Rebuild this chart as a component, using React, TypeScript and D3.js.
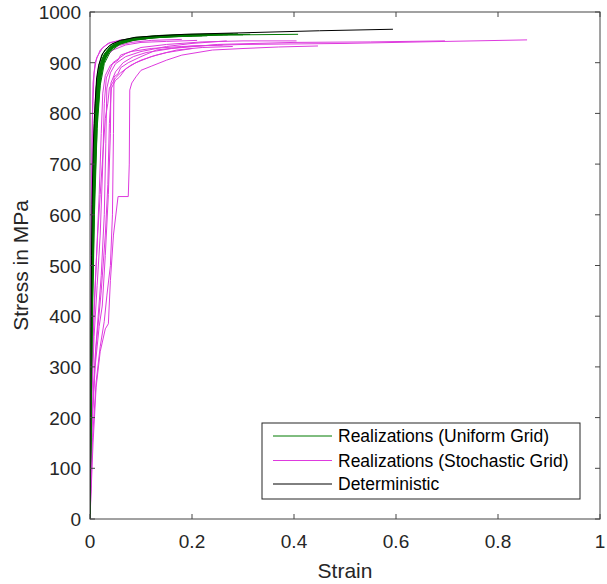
import React from "react";
import * as d3 from "d3";

type Pt = [number, number];

const xTicks = [0, 0.2, 0.4, 0.6, 0.8, 1];
const yTicks = [0, 100, 200, 300, 400, 500, 600, 700, 800, 900, 1000];

const legendLabels = [
  "Realizations (Uniform Grid)",
  "Realizations (Stochastic Grid)",
  "Deterministic",
];
const seriesColors = ["#007a00", "#de3ade", "#000000"];

const deterministic: Pt[] = [
  [0, 0], [0.001, 200], [0.002, 380], [0.003, 520], [0.004, 620], [0.006, 720],
  [0.008, 780], [0.01, 820], [0.013, 870], [0.017, 895], [0.023, 915], [0.03, 926],
  [0.043, 937], [0.06, 944], [0.088, 950], [0.13, 953], [0.186, 956], [0.3, 959],
  [0.45, 963], [0.594, 966],
];

const uniform1: Pt[] = [[0, 0], [0.003, 380], [0.006, 600], [0.01, 760], [0.014, 840], [0.02, 890], [0.03, 918], [0.045, 934], [0.07, 944], [0.1, 949], [0.15, 953], [0.22, 955], [0.314, 956]];
const uniform2: Pt[] = [[0, 0], [0.003, 350], [0.007, 600], [0.012, 780], [0.017, 860], [0.024, 900], [0.035, 922], [0.05, 935], [0.08, 945], [0.12, 950], [0.2, 954], [0.3, 955], [0.408, 956]];
const uniform3: Pt[] = [[0, 0], [0.002, 300], [0.005, 560], [0.009, 740], [0.013, 830], [0.018, 880], [0.026, 910], [0.04, 930], [0.06, 941], [0.09, 948], [0.14, 952], [0.2, 954], [0.26, 955]];
const uniform4: Pt[] = [[0, 0], [0.004, 420], [0.008, 650], [0.013, 800], [0.019, 870], [0.027, 905], [0.04, 926], [0.06, 939], [0.09, 946], [0.13, 951], [0.18, 953], [0.24, 954]];
const uniform5: Pt[] = [[0, 0], [0.002, 320], [0.004, 520], [0.007, 690], [0.011, 800], [0.016, 870], [0.023, 905], [0.035, 926], [0.055, 940], [0.085, 948], [0.12, 952], [0.17, 954], [0.21, 955]];
const uniform6: Pt[] = [[0, 0], [0.002, 340], [0.005, 600], [0.008, 760], [0.012, 850], [0.017, 893], [0.025, 918], [0.038, 934], [0.06, 944], [0.09, 950], [0.14, 954], [0.2, 956], [0.28, 957]];
const uniform7: Pt[] = [[0, 0], [0.003, 400], [0.006, 640], [0.01, 790], [0.015, 860], [0.021, 898], [0.03, 920], [0.045, 935], [0.07, 945], [0.11, 951], [0.16, 954], [0.23, 956], [0.29, 957]];
const uniform8: Pt[] = [[0, 0], [0.004, 380], [0.009, 640], [0.015, 800], [0.021, 870], [0.028, 905], [0.038, 924], [0.055, 937], [0.08, 945], [0.12, 950], [0.18, 953], [0.25, 955]];
const uniform9: Pt[] = [[0, 0], [0.002, 280], [0.005, 520], [0.008, 700], [0.012, 810], [0.016, 865], [0.022, 900], [0.032, 922], [0.048, 936], [0.075, 945], [0.11, 950], [0.16, 953], [0.2, 954]];
const uniform10: Pt[] = [[0, 0], [0.003, 360], [0.007, 620], [0.011, 770], [0.016, 850], [0.022, 892], [0.032, 918], [0.047, 933], [0.07, 942], [0.1, 948], [0.15, 952], [0.23, 955], [0.27, 955]];
const uniform11: Pt[] = [[0, 0], [0.003, 330], [0.006, 560], [0.01, 730], [0.015, 830], [0.021, 880], [0.029, 908], [0.042, 928], [0.065, 940], [0.095, 946], [0.14, 950], [0.19, 952], [0.23, 953]];
const uniform12: Pt[] = [[0, 0], [0.002, 260], [0.004, 470], [0.007, 660], [0.01, 780], [0.014, 850], [0.019, 890], [0.027, 915], [0.04, 932], [0.062, 942], [0.095, 949], [0.15, 953], [0.19, 954]];
const uniform13: Pt[] = [[0, 0], [0.004, 400], [0.008, 620], [0.012, 760], [0.018, 850], [0.025, 895], [0.036, 920], [0.052, 935], [0.078, 944], [0.115, 949], [0.17, 952], [0.22, 953]];
const uniform14: Pt[] = [[0, 0], [0.003, 370], [0.006, 590], [0.009, 730], [0.013, 820], [0.018, 875], [0.025, 905], [0.037, 927], [0.057, 939], [0.087, 947], [0.13, 951], [0.18, 953], [0.25, 955], [0.3, 955]];
const uniform15: Pt[] = [[0, 0], [0.002, 310], [0.005, 580], [0.008, 740], [0.011, 820], [0.015, 865], [0.02, 895], [0.028, 916], [0.042, 933], [0.065, 943], [0.1, 949], [0.15, 953], [0.17, 953]];
const uniform16: Pt[] = [[0, 0], [0.004, 360], [0.009, 610], [0.014, 770], [0.02, 855], [0.028, 898], [0.04, 922], [0.058, 936], [0.085, 944], [0.125, 949], [0.18, 952], [0.2, 953]];

const stochastic1: Pt[] = [[0, 0], [0.006, 150], [0.012, 260], [0.02, 330], [0.03, 375], [0.036, 385], [0.04, 470], [0.046, 560], [0.055, 636], [0.075, 636], [0.077, 700], [0.078, 846], [0.082, 860], [0.09, 872], [0.1, 885], [0.12, 893], [0.15, 905], [0.18, 915], [0.24, 925], [0.3, 928], [0.37, 931], [0.447, 933]];
const stochastic2: Pt[] = [[0, 0], [0.005, 160], [0.012, 270], [0.02, 340], [0.028, 390], [0.033, 440], [0.04, 500], [0.044, 600], [0.046, 760], [0.047, 872], [0.055, 878], [0.06, 890], [0.075, 900], [0.1, 912], [0.13, 925], [0.2, 933], [0.3, 936], [0.5, 938], [0.7, 942], [0.857, 945]];
const stochastic3: Pt[] = [[0, 0], [0.004, 180], [0.01, 300], [0.018, 380], [0.024, 420], [0.03, 520], [0.036, 640], [0.04, 760], [0.041, 860], [0.05, 882], [0.065, 900], [0.085, 912], [0.11, 920], [0.16, 928], [0.25, 936], [0.4, 940], [0.55, 941], [0.696, 943]];
const stochastic4: Pt[] = [[0, 0], [0.004, 200], [0.01, 320], [0.016, 400], [0.022, 480], [0.028, 600], [0.031, 740], [0.033, 850], [0.04, 880], [0.05, 898], [0.07, 912], [0.1, 922], [0.15, 932], [0.2, 938], [0.268, 943]];
const stochastic5: Pt[] = [[0, 0], [0.003, 220], [0.008, 360], [0.014, 460], [0.02, 560], [0.025, 700], [0.028, 820], [0.032, 870], [0.045, 900], [0.07, 918], [0.1, 930], [0.15, 936], [0.22, 941], [0.3, 943], [0.405, 943]];
const stochastic6: Pt[] = [[0, 0], [0.003, 240], [0.007, 380], [0.012, 500], [0.018, 640], [0.022, 760], [0.025, 840], [0.03, 875], [0.04, 895], [0.055, 905], [0.06, 915], [0.08, 922], [0.12, 928], [0.18, 932], [0.26, 935]];
const stochastic7: Pt[] = [[0, 0], [0.002, 300], [0.005, 500], [0.009, 680], [0.013, 800], [0.017, 860], [0.022, 890], [0.03, 910], [0.045, 925], [0.07, 935], [0.1, 940], [0.15, 942], [0.21, 944]];
const stochastic8: Pt[] = [[0, 0], [0.002, 350], [0.004, 560], [0.007, 720], [0.01, 820], [0.014, 870], [0.02, 900], [0.03, 920], [0.05, 932], [0.08, 940], [0.12, 944], [0.18, 946]];
const stochastic9: Pt[] = [[0, 0], [0.001, 300], [0.002, 550], [0.004, 760], [0.006, 860], [0.01, 900], [0.02, 925], [0.035, 938], [0.06, 945], [0.1, 948], [0.14, 950]];
const stochastic10: Pt[] = [[0, 0], [0.0015, 380], [0.003, 640], [0.005, 800], [0.008, 880], [0.013, 910], [0.025, 930], [0.04, 940], [0.07, 944], [0.11, 946]];
const stochastic11: Pt[] = [[0, 0], [0.003, 250], [0.008, 420], [0.015, 560], [0.02, 640], [0.024, 700], [0.03, 790], [0.035, 820], [0.038, 850], [0.05, 870], [0.06, 880], [0.08, 895], [0.1, 905], [0.13, 915], [0.17, 925], [0.22, 930], [0.28, 932]];
const stochastic12: Pt[] = [[0, 0], [0.004, 200], [0.012, 340], [0.022, 450], [0.03, 560], [0.035, 660], [0.038, 780], [0.042, 850], [0.05, 865], [0.058, 872], [0.07, 888], [0.09, 900], [0.12, 912], [0.15, 920], [0.2, 928]];

const uniformSeries = [uniform1, uniform2, uniform3, uniform4, uniform5, uniform6, uniform7, uniform8, uniform9, uniform10, uniform11, uniform12, uniform13, uniform14, uniform15, uniform16];
const stochasticSeries = [stochastic1, stochastic2, stochastic3, stochastic4, stochastic5, stochastic6, stochastic7, stochastic8, stochastic9, stochastic10, stochastic11, stochastic12];

const W = 607, H = 584;
const M = { left: 90, right: 600, top: 12, bottom: 519 };
const TEXT = "#262626";
const AXIS = "#454545";
const FONT = "'Liberation Sans', Arial, Helvetica, sans-serif";

export default function App() {
  const x = d3.scaleLinear().domain([0, 1]).range([M.left, M.right]);
  const y = d3.scaleLinear().domain([0, 1000]).range([M.bottom, M.top]);
  const line = d3.line<Pt>().x((d) => x(d[0])).y((d) => y(d[1]));
  const tl = 5;

  const lg = { x0: 262, x1: 580, y0: 423, y1: 499 };
  const rows = [436, 460.5, 484];

  return (
    <svg width={W} height={H} style={{ position: "absolute", left: 0, top: 0, background: "#fff" }} fontFamily={FONT}>
      <defs>
        <clipPath id="plot">
          <rect x={M.left} y={M.top} width={M.right - M.left} height={M.bottom - M.top} />
        </clipPath>
      </defs>
      <rect x={0} y={0} width={W} height={H} fill="#fff" />
      <g clipPath="url(#plot)" fill="none" strokeLinejoin="round">
        {stochasticSeries.map((s, i) => (
          <path key={"s" + i} d={line(s) || ""} stroke={seriesColors[1]} strokeWidth={1} />
        ))}
        {uniformSeries.map((s, i) => (
          <path key={"u" + i} d={line(s) || ""} stroke={seriesColors[0]} strokeWidth={1} />
        ))}
        <path d={line(deterministic) || ""} stroke={seriesColors[2]} strokeWidth={1} />
      </g>
      <rect x={M.left} y={M.top} width={M.right - M.left} height={M.bottom - M.top} fill="none" stroke={AXIS} strokeWidth={1} />
      {xTicks.map((t) => (
        <g key={"xt" + t}>
          <line x1={x(t)} x2={x(t)} y1={M.bottom} y2={M.bottom - tl} stroke={AXIS} />
          <line x1={x(t)} x2={x(t)} y1={M.top} y2={M.top + tl} stroke={AXIS} />
          <text x={x(t)} y={548} textAnchor="middle" fontSize={19} fill={TEXT}>{String(t)}</text>
        </g>
      ))}
      {yTicks.map((t) => (
        <g key={"yt" + t}>
          <line x1={M.left} x2={M.left + tl} y1={y(t)} y2={y(t)} stroke={AXIS} />
          <line x1={M.right} x2={M.right - tl} y1={y(t)} y2={y(t)} stroke={AXIS} />
          <text x={81} y={y(t) + 7} textAnchor="end" fontSize={19} fill={TEXT}>{String(t)}</text>
        </g>
      ))}
      <text x={(M.left + M.right) / 2} y={578} textAnchor="middle" fontSize={21} fill={TEXT}>Strain</text>
      <text transform={`translate(28, ${(M.top + M.bottom) / 2}) rotate(-90)`} textAnchor="middle" fontSize={21} fill={TEXT}>Stress in MPa</text>
      <rect x={lg.x0} y={lg.y0} width={lg.x1 - lg.x0} height={lg.y1 - lg.y0} fill="#fff" stroke="#262626" strokeWidth={1} />
      {legendLabels.map((l, i) => (
        <g key={"lg" + i}>
          <line x1={273} x2={332} y1={rows[i]} y2={rows[i]} stroke={seriesColors[i]} strokeWidth={1} />
          <text x={338} y={rows[i] + 6} fontSize={17.5} fill="#000">{l}</text>
        </g>
      ))}
    </svg>
  );
}
